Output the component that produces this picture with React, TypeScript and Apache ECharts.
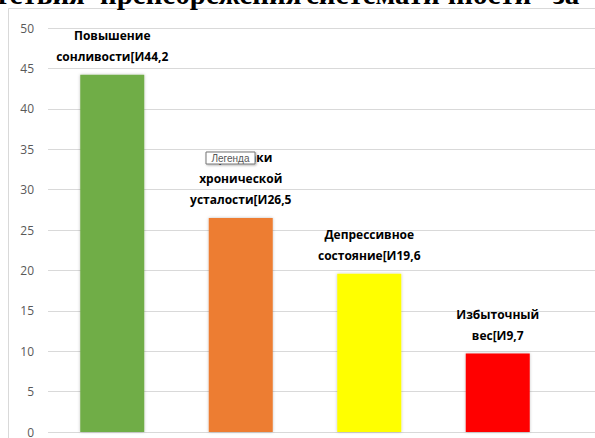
import React, { useEffect, useRef } from "react";
import * as echarts from "echarts";

// Category names (two or three lines each) and their percentages
const categories: string[] = [
  "Повышение\nсонливости",
  "Признаки\nхронической\nусталости",
  "Депрессивное\nсостояние",
  "Избыточный\nвес",
];
const values: number[] = [44.2, 26.5, 19.6, 9.7];
const barColors: string[] = ["#70ad47", "#ed7d31", "#ffff00", "#ff0000"];
const yTicks = { min: 0, max: 50, step: 5 };

// Justified heading line above the chart frame, one entry per word
const headingWords: string[] = ["тствия", "пренебрежения", "систематичности", "за"];
const headingX: number[] = [-5, 100, 306, 553];
const legendHint = "Легенда";

export default function App() {
  const ref = useRef<HTMLDivElement>(null);

  useEffect(() => {
    if (!ref.current) return;
    const chart = echarts.init(ref.current, undefined, { renderer: "svg" });

    const fmt = (v: number) => v.toFixed(1).replace(".", ",");

    const heading = headingWords.map((w, i) => ({
      type: "text",
      x: headingX[i],
      y: 8,
      style: {
        text: w,
        font: "bold 29px 'Liberation Serif'",
        fill: "#000000",
        verticalAlign: "bottom",
      },
      silent: true,
    }));

    chart.setOption({
      animation: false,
      backgroundColor: "#ffffff",
      grid: { left: 48, top: 28, bottom: 5, width: 642.5, containLabel: false },
      xAxis: {
        type: "value",
        min: -0.5,
        max: 4.5,
        show: false,
        splitLine: { show: false },
      },
      yAxis: {
        type: "value",
        min: yTicks.min,
        max: yTicks.max,
        interval: yTicks.step,
        axisLine: { show: false },
        axisTick: { show: false },
        axisLabel: {
          color: "#595959",
          fontFamily: "Open Sans",
          fontSize: 12,
          margin: 14,
        },
        splitLine: { lineStyle: { color: "#d9d9d9", width: 1 } },
      },
      series: [
        {
          type: "bar",
          barWidth: 64,
          z: 2,
          data: values.map((v, i) => ({
            value: [i, v],
            itemStyle: {
              color: barColors[i],
              shadowBlur: 3,
              shadowColor: "rgba(0,0,0,0.25)",
            },
          })),
          label: {
            show: true,
            position: "top",
            distance: 8,
            align: "center",
            color: "#000000",
            fontFamily: "Open Sans",
            fontWeight: "bold",
            fontSize: 12,
            lineHeight: 21,
            formatter: (p: any) =>
              `${categories[p.dataIndex]}[И${fmt(values[p.dataIndex])}`,
          },
        },
      ],
      graphic: [
        {
          type: "rect",
          shape: { x: 8.5, y: 8.5, width: 760, height: 460 },
          style: { fill: "none", stroke: "#d9d9d9", lineWidth: 1 },
          silent: true,
          z: -1,
        },
        ...heading,
        {
          type: "rect",
          shape: { x: 206, y: 152, width: 49, height: 12 },
          style: {
            fill: "#ffffff",
            stroke: "#767676",
            lineWidth: 1,
            shadowBlur: 2,
            shadowOffsetX: 1,
            shadowOffsetY: 1,
            shadowColor: "rgba(0,0,0,0.3)",
          },
          silent: true,
          z: 100,
          zlevel: 1,
        },
        {
          type: "text",
          x: 230.5,
          y: 158,
          style: {
            text: legendHint,
            font: "10px 'Liberation Sans'",
            fill: "#575757",
            align: "center",
            verticalAlign: "middle",
          },
          silent: true,
          z: 101,
          zlevel: 1,
        },
      ],
    });

    return () => chart.dispose();
  }, []);

  return (
    <div
      style={{
        position: "fixed",
        left: 0,
        top: 0,
        width: 595,
        height: 438,
        overflow: "hidden",
        background: "#ffffff",
      }}
    >
      <div ref={ref} style={{ width: 720, height: 438 }} />
    </div>
  );
}
